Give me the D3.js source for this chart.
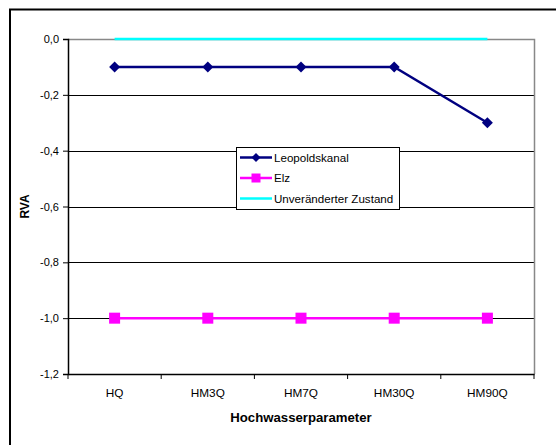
<!DOCTYPE html>
<html>
<head>
<meta charset="utf-8">
<script src="https://cdn.jsdelivr.net/npm/d3@7"></script>
<style>
  body { margin: 0; background: #fff; }
  svg { display: block; font-family: Arial, "Liberation Sans", sans-serif; }
</style>
</head>
<body>
<div id="chart"></div>
<script>
// Hochwasserparameter vs RVA
const categories = ["HQ", "HM3Q", "HM7Q", "HM30Q", "HM90Q"];
const leopoldskanal = [-0.1, -0.1, -0.1, -0.1, -0.3];
const elz = [-1.0, -1.0, -1.0, -1.0, -1.0];
const unveraendert = [0, 0, 0, 0, 0];
const yTicks = [0, -0.2, -0.4, -0.6, -0.8, -1.0, -1.2];

const width = 556, height = 445;
const margin = { left: 68, right: 22, top: 39, bottom: 71 };

const svg = d3.select("#chart").append("svg")
    .attr("width", width)
    .attr("height", height);

// outer frame (only left and top visible)
svg.append("rect")
    .attr("x", 10).attr("y", 9.5)
    .attr("width", 560).attr("height", 460)
    .attr("fill", "none")
    .attr("stroke", "#000")
    .attr("stroke-width", 2);

const x = d3.scaleBand()
    .domain(categories)
    .range([margin.left, width - margin.right]);

const y = d3.scaleLinear()
    .domain([-1.2, 0])
    .range([height - margin.bottom, margin.top]);

// gridlines
svg.append("g")
    .selectAll("line")
    .data(yTicks.filter(d => d !== 0 && d !== -1.2))
    .enter().append("line")
    .attr("x1", margin.left).attr("x2", width - margin.right)
    .attr("y1", d => Math.round(y(d)) + 0.5).attr("y2", d => Math.round(y(d)) + 0.5)
    .attr("stroke", "#000")
    .attr("stroke-width", 1);

// plot border top/right gray
svg.append("path")
    .attr("d", `M${margin.left},${margin.top + 0.5}H${width - margin.right + 0.5}V${height - margin.bottom}`)
    .attr("fill", "none")
    .attr("stroke", "#888")
    .attr("stroke-width", 1.5);

// y axis
const yAxis = svg.append("g")
    .attr("transform", `translate(${margin.left},0)`)
    .call(d3.axisLeft(y).tickValues(yTicks).tickSize(5).tickPadding(4)
        .tickFormat(d => d3.format(".1f")(d).replace(".", ",").replace("−", "-")));
yAxis.select(".domain").attr("stroke", "#000").attr("stroke-width", 1.5);
yAxis.selectAll(".tick line").attr("stroke", "#000");
yAxis.selectAll("text").attr("font-size", 11).attr("fill", "#000")
    .attr("font-family", "Arial, 'Liberation Sans', sans-serif");

// x axis
const xAxis = svg.append("g")
    .attr("transform", `translate(0,${height - margin.bottom})`)
    .call(d3.axisBottom(x).tickSize(0).tickPadding(15));
xAxis.select(".domain").attr("stroke", "#000").attr("stroke-width", 1.5);
xAxis.selectAll("text").attr("font-size", 11.8).attr("fill", "#000")
    .attr("font-family", "Arial, 'Liberation Sans', sans-serif");
// band boundary ticks
svg.append("g")
    .selectAll("line")
    .data(categories.concat([null]))
    .enter().append("line")
    .attr("x1", d => d === null ? x.range()[1] : x(d))
    .attr("x2", d => d === null ? x.range()[1] : x(d))
    .attr("y1", height - margin.bottom)
    .attr("y2", height - margin.bottom + 5)
    .attr("stroke", "#000")
    .attr("stroke-width", 1);

// axis titles
svg.append("text")
    .attr("x", (margin.left + width - margin.right) / 2)
    .attr("y", 422)
    .attr("text-anchor", "middle")
    .attr("font-size", 13.2).attr("font-weight", "bold")
    .text("Hochwasserparameter");

svg.append("text")
    .attr("transform", `translate(29,${(margin.top + height - margin.bottom) / 2}) rotate(-90)`)
    .attr("text-anchor", "middle")
    .attr("font-size", 12).attr("font-weight", "bold")
    .text("RVA");

const cx = d => x(d) + x.bandwidth() / 2;
const line = d3.line().x(d => cx(d.c)).y(d => y(d.v));
const toPts = arr => arr.map((v, i) => ({ c: categories[i], v: v }));

const series = [
    { name: "Leopoldskanal", values: leopoldskanal, color: "#000080", marker: "diamond" },
    { name: "Elz", values: elz, color: "#ff00ff", marker: "square" },
    { name: "Unveränderter Zustand", values: unveraendert, color: "#00ffff", marker: null }
];

const diamond = s => `M0,${-s}L${s},0L0,${s}L${-s},0Z`;

// draw in reverse so Leopoldskanal ends up on top
series.slice().reverse().forEach(s => {
    svg.append("path")
        .datum(toPts(s.values))
        .attr("d", line)
        .attr("fill", "none")
        .attr("stroke", s.color)
        .attr("stroke-width", 2.5);
    if (s.marker === "diamond") {
        svg.append("g").selectAll("path")
            .data(toPts(s.values))
            .enter().append("path")
            .attr("transform", d => `translate(${cx(d.c)},${y(d.v)})`)
            .attr("d", diamond(5.5))
            .attr("fill", s.color);
    } else if (s.marker === "square") {
        svg.append("g").selectAll("rect")
            .data(toPts(s.values))
            .enter().append("rect")
            .attr("x", d => cx(d.c) - 5.5)
            .attr("y", d => y(d.v) - 5.5)
            .attr("width", 11).attr("height", 11)
            .attr("fill", s.color);
    }
});

// legend
const lg = svg.append("g").attr("transform", "translate(236,147)");
lg.append("rect")
    .attr("x", 0.5).attr("y", 0.5)
    .attr("width", 163).attr("height", 62)
    .attr("fill", "#fff")
    .attr("stroke", "#000")
    .attr("stroke-width", 1);
series.forEach((s, i) => {
    const yy = 10.5 + i * 20.5;
    lg.append("line")
        .attr("x1", 4).attr("x2", 36)
        .attr("y1", yy).attr("y2", yy)
        .attr("stroke", s.color).attr("stroke-width", 2.5);
    if (s.marker === "diamond") {
        lg.append("path").attr("transform", `translate(20,${yy})`)
            .attr("d", diamond(4.5)).attr("fill", s.color);
    } else if (s.marker === "square") {
        lg.append("rect").attr("x", 15.5).attr("y", yy - 4.5)
            .attr("width", 9).attr("height", 9).attr("fill", s.color);
    }
    lg.append("text")
        .attr("x", 38).attr("y", yy + 4)
        .attr("font-size", 11.6)
        .text(s.name);
});
</script>
</body>
</html>
